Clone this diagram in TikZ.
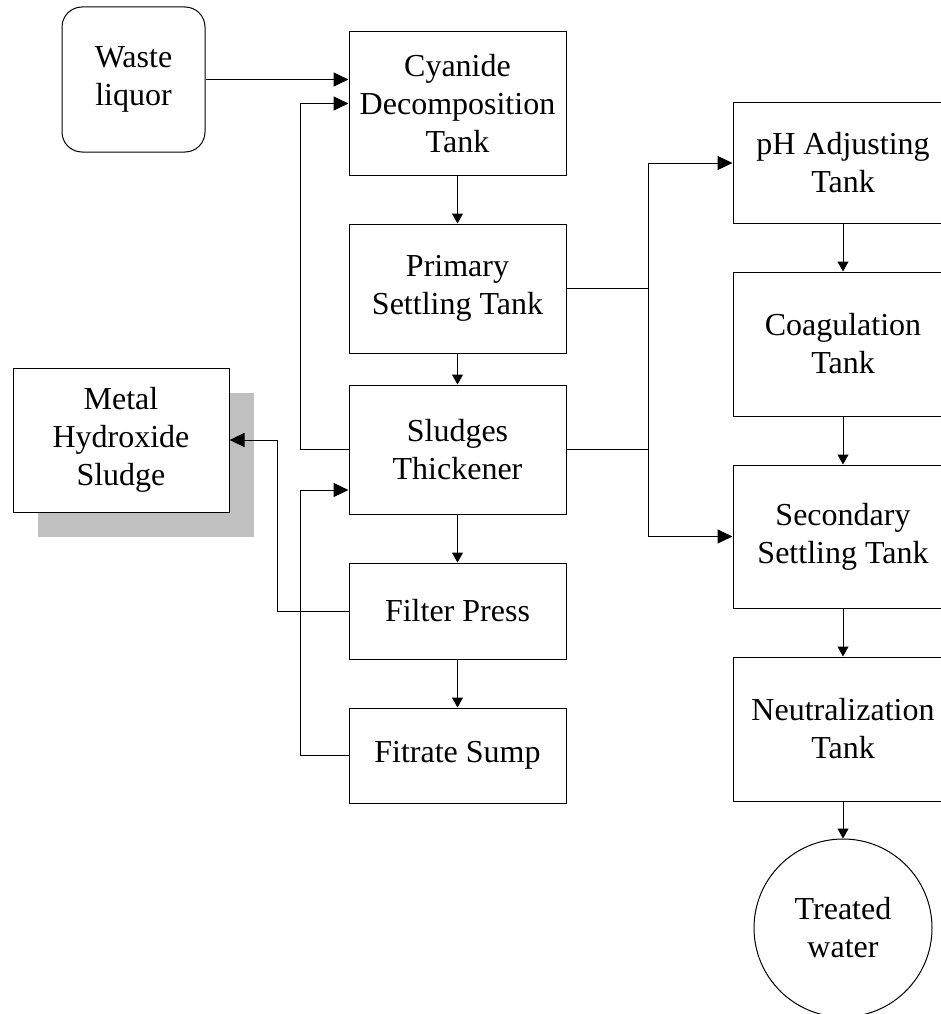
\documentclass[tikz,border=0pt]{standalone}
\usepackage{fontspec}
\setmainfont{Liberation Serif}
\usetikzlibrary{arrows.meta,positioning,calc,shadows}
\definecolor{shade}{RGB}{192,192,192}
\tikzset{tank/.style={draw,line width=1pt,minimum width=217pt,align=center,inner sep=0pt,font=\fontsize{32}{38}\selectfont},drop/.style={-{Triangle[length=10pt,width=11pt]},line width=1pt},feed/.style={-{Triangle[length=15pt,width=14pt]},line width=1pt}}

\begin{document}
\begin{tikzpicture}[x=1pt,y=1pt,node distance=48pt]
\path[use as bounding box] (0,0) rectangle (940,-1014);
% left column
\node[tank,rounded corners=20pt,minimum width=143pt,minimum height=145pt] (waste) at (133.5,-79.5) {Waste\\liquor};
\node[tank,minimum height=143pt] (cyan) at (457.5,-103.5) {Cyanide\\Decomposition\\Tank};
\node[tank,minimum height=129pt,below=of cyan] (prim) {Primary\\Settling Tank};
\node[tank,minimum height=129pt,below=31pt of prim] (thick) {Sludges\\Thickener};
\node[tank,minimum height=96pt,below=of thick] (filt) {Filter Press};
\node[tank,minimum height=95pt,below=of filt] (sump) {Fitrate Sump};
\node[tank,minimum width=216pt,minimum height=144pt,fill=white,drop shadow={shadow xshift=25pt,shadow yshift=-25pt,fill=shade,opacity=1}] (metal) at (121,-440) {Metal\\Hydroxide\\Sludge};
% right column
\node[tank,minimum width=220pt,minimum height=120pt] (ph) at (843,-163) {pH Adjusting\\Tank};
\node[tank,minimum width=220pt,minimum height=144pt,below=of ph] (coag) {Coagulation\\Tank};
\node[tank,minimum width=220pt,minimum height=143pt,below=of coag] (sec) {Secondary\\Settling Tank};
\node[tank,minimum width=220pt,minimum height=144pt,below=of sec] (neut) {Neutralization\\Tank};
\node[tank,circle,minimum width=178pt,below=37pt of neut] (water) {Treated\\water};
% bend points
\coordinate (lx) at ($(cyan.west)+(-48,0)$);
\coordinate (mx) at ($(metal.east)+(48,0)$);
\coordinate (rx) at ($(ph.west)+(-84,0)$);
\coordinate (tin) at ($(thick.west)+(0,-40.5)$);
% connectors
\draw[feed] (waste.east) -- (waste.east -| cyan.west);
\draw[feed] (thick.west) -| (lx) |- (cyan.west);
\draw[drop] (cyan) -- (prim);
\draw[drop] (prim) -- (thick);
\draw[drop] (thick) -- (filt);
\draw[drop] (filt) -- (sump);
\draw[feed] (sump.west) -| (tin -| lx) -- (tin);
\draw[feed] (filt.west) -| (mx) |- (metal.east);
\draw[feed] (prim.east) -| (rx) |- (ph.west);
\draw[feed] (thick.east) -| (rx) |- (sec.west);
\draw[drop] (ph) -- (coag);
\draw[drop] (coag) -- (sec);
\draw[drop] (sec) -- (neut);
\draw[drop] (neut) -- (water);
\end{tikzpicture}
\end{document}
